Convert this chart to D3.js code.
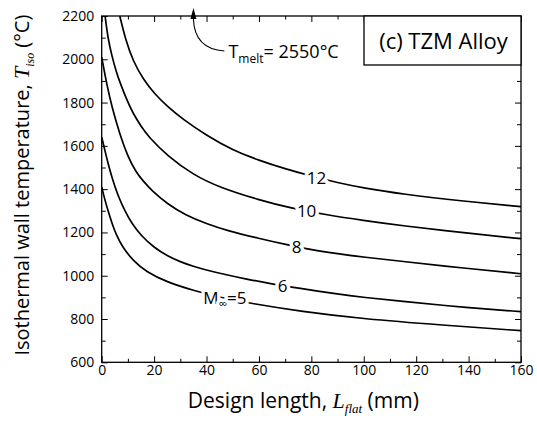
<!DOCTYPE html>
<html>
<head>
<meta charset="utf-8">
<script src="https://cdn.jsdelivr.net/npm/d3@7"></script>
<style>
  body { margin: 0; background: #fff; }
  svg { display: block; font-family: 'Open Sans', sans-serif; }
</style>
</head>
<body>
<svg width="537" height="428"></svg>
<script>
// Mach numbers of the five curves
const machNumbers = [5, 6, 8, 10, 12];

// design length L_flat (mm) and wall temperature T_iso (C)
const lenM5 = [0, 1.2, 2.8, 4, 5.5, 8, 12, 17, 25, 35, 45, 57, 76, 100, 130, 160];
const tempM5 = [1410, 1350, 1285, 1240, 1190, 1130, 1070, 1018, 970, 932, 900, 872, 835, 800, 772, 746];

const lenM6 = [0, 1, 2.4, 4, 6.2, 9, 11.3, 15, 20, 25, 30, 35, 40, 47, 55, 65, 75, 90, 100, 114, 140, 160];
const tempM6 = [1640, 1590, 1520, 1450, 1370, 1295, 1245, 1185, 1130, 1092, 1064, 1043, 1026, 1006, 985, 962, 943, 915, 900, 882, 852, 834];

const lenM8 = [0, 2, 4, 7, 10, 13, 16, 19, 25, 32, 40, 48, 60, 71, 80, 90, 100, 114, 140, 160];
const tempM8 = [2010, 1880, 1775, 1650, 1550, 1480, 1435, 1395, 1332, 1280, 1240, 1208, 1172, 1142, 1120, 1102, 1086, 1067, 1033, 1009];

const lenM10 = [1.3, 2.4, 4, 5.5, 7.1, 10, 12, 15, 18, 25, 35, 45, 60, 73, 85, 100, 114, 140, 160];
const tempM10 = [2200, 2095, 2010, 1945, 1888, 1800, 1750, 1690, 1640, 1555, 1465, 1408, 1350, 1310, 1283, 1255, 1232, 1196, 1171];

const lenM12 = [6.9, 9, 12, 16, 20, 25, 31, 40, 50, 60, 70, 80, 90, 100, 114, 140, 160];
const tempM12 = [2200, 2095, 1990, 1905, 1843, 1782, 1723, 1648, 1580, 1533, 1494, 1460, 1430, 1405, 1378, 1342, 1319];

// where along each curve its label sits (mm)
const labelAt = [47, 69, 74.4, 78.2, 82];

const xTicks = [0, 20, 40, 60, 80, 100, 120, 140, 160];
const xMinor = [10, 30, 50, 70, 90, 110, 130, 150];
const yTicks = [600, 800, 1000, 1200, 1400, 1600, 1800, 2000, 2200];
const yMinor = [700, 900, 1100, 1300, 1500, 1700, 1900, 2100];

const meltArrowL = 35;

document.addEventListener('DOMContentLoaded', () => {
  const margin = { top: 16, right: 16, bottom: 65.7, left: 101.7 };
  const width = 537 - margin.left - margin.right;
  const height = 428 - margin.top - margin.bottom;

  const x = d3.scaleLinear().domain([0, 160]).range([0, width]);
  const y = d3.scaleLinear().domain([600, 2200]).range([height, 0]);

  const svg = d3.select('svg');
  const g = svg.append('g')
      .attr('transform', `translate(${margin.left},${margin.top})`);

  g.append('clipPath')
      .attr('id', 'plot-clip')
    .append('rect')
      .attr('width', width)
      .attr('height', height);

  // inward ticks on all four sides
  const styleAxis = sel => {
    sel.select('.domain').remove();
    sel.selectAll('line').attr('stroke', '#000').attr('stroke-width', 1);
    sel.selectAll('text').attr('fill', '#000').style('font-size', '14px')
       .style('font-family', "'Open Sans', sans-serif");
  };

  g.append('g')
      .attr('transform', `translate(0,${height})`)
      .call(d3.axisBottom(x).tickValues(xTicks).tickSize(-6).tickPadding(3).tickFormat(d3.format('d')))
      .call(styleAxis);
  g.append('g')
      .attr('transform', `translate(0,${height})`)
      .call(d3.axisBottom(x).tickValues(xMinor).tickSize(-3.5).tickFormat(''))
      .call(styleAxis);
  g.append('g')
      .call(d3.axisTop(x).tickValues(xTicks).tickSize(-6).tickFormat(''))
      .call(styleAxis);
  g.append('g')
      .call(d3.axisTop(x).tickValues(xMinor).tickSize(-3.5).tickFormat(''))
      .call(styleAxis);

  g.append('g')
      .call(d3.axisLeft(y).tickValues(yTicks).tickSize(-6).tickPadding(7.5).tickFormat(d3.format('d')))
      .call(styleAxis);
  g.append('g')
      .call(d3.axisLeft(y).tickValues(yMinor).tickSize(-4).tickFormat(''))
      .call(styleAxis);
  g.append('g')
      .attr('transform', `translate(${width},0)`)
      .call(d3.axisRight(y).tickValues(yTicks).tickSize(-6).tickFormat(''))
      .call(styleAxis);
  g.append('g')
      .attr('transform', `translate(${width},0)`)
      .call(d3.axisRight(y).tickValues(yMinor).tickSize(-4).tickFormat(''))
      .call(styleAxis);

  const lens = [lenM5, lenM6, lenM8, lenM10, lenM12];
  const temps = [tempM5, tempM6, tempM8, tempM10, tempM12];
  const series = machNumbers.map((m, i) => ({
    mach: m,
    points: d3.zip(lens[i], temps[i]),
    labelL: labelAt[i]
  }));

  const line = d3.line()
      .x(d => x(d[0]))
      .y(d => y(d[1]))
      .curve(d3.curveBasis);

  g.append('g')
      .attr('clip-path', 'url(#plot-clip)')
    .selectAll('path')
    .data(series)
    .enter()
    .append('path')
      .attr('d', d => line(d.points))
      .attr('fill', 'none')
      .attr('stroke', '#000')
      .attr('stroke-width', 1.7);

  // linear lookup on a curve for label placement
  const tempAt = (pts, L) => {
    const i = Math.min(pts.length - 1, Math.max(1, d3.bisectLeft(pts.map(p => p[0]), L)));
    const [x0, t0] = pts[i - 1];
    const [x1, t1] = pts[i];
    return t0 + (t1 - t0) * (L - x0) / (x1 - x0);
  };

  const labels = g.selectAll('.curve-label')
    .data(series)
    .enter()
    .append('text')
      .attr('class', 'curve-label')
      .attr('x', d => x(d.labelL))
      .attr('y', d => y(tempAt(d.points, d.labelL)))
      .attr('dy', '0.36em')
      .attr('text-anchor', 'middle')
      .style('font-size', '17px')
      .attr('fill', '#000')
      .attr('stroke', '#fff')
      .attr('stroke-width', 7)
      .attr('stroke-linejoin', 'round')
      .attr('paint-order', 'stroke');

  labels.each(function(d, i) {
    const t = d3.select(this);
    if (i === 0) {
      t.append('tspan').text('M');
      t.append('tspan').attr('dy', 4).style('font-size', '12px').text('\u221e');
      t.append('tspan').attr('dy', -4).text('=' + d.mach);
    } else {
      t.text(d.mach);
    }
  });

  // frame
  g.append('rect')
      .attr('width', width)
      .attr('height', height)
      .attr('fill', 'none')
      .attr('stroke', '#000')
      .attr('stroke-width', 1.3);

  // melting point annotation
  const ax = x(meltArrowL);
  const arrow = g.append('g');
  arrow.append('path')
      .attr('d', `M${ax + 31},${35} Q${ax + 1},${33} ${ax},${3}`)
      .attr('fill', 'none')
      .attr('stroke', '#fff')
      .attr('stroke-width', 4);
  arrow.append('path')
      .attr('d', `M${ax + 31},${35} Q${ax + 1},${33} ${ax},${3}`)
      .attr('fill', 'none')
      .attr('stroke', '#000')
      .attr('stroke-width', 1.1);
  arrow.append('path')
      .attr('d', `M${ax},${-8} L${ax - 3},${3} L${ax + 3},${3} Z`)
      .attr('fill', '#000');

  const melt = g.append('text')
      .attr('x', ax + 35)
      .attr('y', 42)
      .attr('fill', '#000')
      .style('font-size', '18px');
  melt.append('tspan').text('T');
  melt.append('tspan').attr('dy', 5).style('font-size', '12px').text('melt');
  melt.append('tspan').attr('dy', -5).text('= 2550\u00b0C');

  // panel label box
  const boxW = 157, boxH = 49;
  g.append('rect')
      .attr('x', width - boxW)
      .attr('y', 0)
      .attr('width', boxW)
      .attr('height', boxH)
      .attr('fill', '#fff')
      .attr('stroke', '#000')
      .attr('stroke-width', 1.3);
  g.append('text')
      .attr('x', width - boxW / 2 + 1)
      .attr('y', 32.5)
      .attr('text-anchor', 'middle')
      .attr('fill', '#000')
      .style('font-size', '22px')
      .text('(c) TZM Alloy');

  // axis titles
  const xTitle = svg.append('text')
      .attr('x', margin.left + width / 2 - 8)
      .attr('y', 408)
      .attr('text-anchor', 'middle')
      .attr('fill', '#000')
      .style('font-size', '21px');
  xTitle.append('tspan').text('Design length, ');
  xTitle.append('tspan').style('font-family', "'Liberation Serif', serif").style('font-style', 'italic').style('font-size', '22px').text('L');
  xTitle.append('tspan').attr('dy', 5).style('font-family', "'Liberation Serif', serif").style('font-style', 'italic').style('font-size', '13px').text('flat');
  xTitle.append('tspan').attr('dy', -5).text(' (mm)');

  const yTitle = svg.append('text')
      .attr('transform', `translate(29,${margin.top + height / 2 - 4}) rotate(-90)`)
      .attr('text-anchor', 'middle')
      .attr('fill', '#000')
      .style('font-size', '20px');
  yTitle.append('tspan').text('Isothermal wall temperature, ');
  yTitle.append('tspan').style('font-family', "'Liberation Serif', serif").style('font-style', 'italic').style('font-size', '22px').text('T');
  yTitle.append('tspan').attr('dy', 5).style('font-family', "'Liberation Serif', serif").style('font-style', 'italic').style('font-size', '12px').text('iso');
  yTitle.append('tspan').attr('dy', -5).text(' (\u00b0C)');
});
</script>
</body>
</html>
